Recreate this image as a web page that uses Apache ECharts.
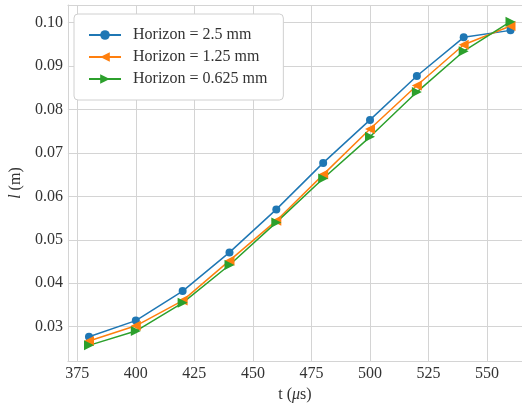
<!DOCTYPE html>
<html>
<head>
<meta charset="utf-8">
<script src="https://cdn.jsdelivr.net/npm/echarts@6/dist/echarts.min.js"></script>
<style>html,body{margin:0;padding:0;background:#fff}#c{width:522px;height:408px}</style>
</head>
<body>
<div id="c"></div>
<script>
const t = [380, 400, 420, 440, 460, 480, 500, 520, 540, 560];
const h25 = [0.0277, 0.0314, 0.0382, 0.0471, 0.0570, 0.0677, 0.0776, 0.0877, 0.0966, 0.0982];
const h125 = [0.0267, 0.0302, 0.0360, 0.0452, 0.0544, 0.0650, 0.0755, 0.0855, 0.0949, 0.0992];
const h0625 = [0.0257, 0.0290, 0.0355, 0.0442, 0.0540, 0.0641, 0.0737, 0.0840, 0.0934, 0.1002];
const seriesNames = ['Horizon = 2.5 mm', 'Horizon = 1.25 mm', 'Horizon = 0.625 mm'];
const xTicks = [375, 400, 425, 450, 475, 500, 525, 550];
const yTicks = [0.03, 0.04, 0.05, 0.06, 0.07, 0.08, 0.09, 0.10];

const FONT = 'Liberation Serif';
const TXT = '#333333';
const GRIDC = '#d4d4d4';
const pairs = arr => t.map((x, i) => [x, arr[i]]);

const chart = echarts.init(document.getElementById('c'), null, {renderer: 'canvas'});
chart.setOption({
  animation: false,
  backgroundColor: '#ffffff',
  textStyle: {fontFamily: FONT},
  grid: {left: 66, top: 5, right: 0, bottom: 44, containLabel: false},
  legend: {
    orient: 'vertical', left: 74, top: 14,
    backgroundColor: '#ffffff', borderColor: '#d0d0d0', borderWidth: 1, borderRadius: 4,
    padding: [13, 16, 13, 14],
    itemWidth: 32, itemHeight: 12, itemGap: 6,
    textStyle: {fontFamily: FONT, fontSize: 16, lineHeight: 16, color: TXT, padding: [0, 0, 0, 7]},
    data: seriesNames
  },
  xAxis: [{
    type: 'value', min: 371, max: 564.9,
    name: 't ({i|μ}s)', nameLocation: 'middle', nameGap: 23,
    nameTextStyle: {fontFamily: FONT, fontSize: 16, color: TXT,
      rich: {i: {fontFamily: FONT, fontSize: 16, fontStyle: 'italic', color: TXT}}},
    axisLine: {show: true, lineStyle: {color: GRIDC, width: 1}},
    axisTick: {show: false, customValues: xTicks},
    axisLabel: {customValues: xTicks, fontFamily: FONT, fontSize: 16, color: TXT, margin: 5},
    splitLine: {show: true, lineStyle: {color: GRIDC, width: 1}}
  }, {
    type: 'value', min: 371, max: 564.9, position: 'top',
    axisLine: {show: true, lineStyle: {color: GRIDC, width: 1}},
    axisTick: {show: false}, axisLabel: {show: false}, splitLine: {show: false}
  }],
  yAxis: {
    type: 'value', min: 0.02208, max: 0.10404,
    name: '{i|l} (m)', nameLocation: 'middle', nameGap: 42, nameRotate: 90,
    nameTextStyle: {fontFamily: FONT, fontSize: 16, color: TXT,
      rich: {i: {fontFamily: FONT, fontSize: 16, fontStyle: 'italic', color: TXT}}},
    axisLine: {show: true, lineStyle: {color: GRIDC, width: 1}},
    axisTick: {show: false, customValues: yTicks},
    axisLabel: {customValues: yTicks, fontFamily: FONT, fontSize: 16, color: TXT, margin: 5,
      formatter: v => v.toFixed(2)},
    splitLine: {show: true, lineStyle: {color: GRIDC, width: 1}}
  },
  series: [
    {name: seriesNames[0], type: 'line', data: pairs(h25), symbol: 'circle', symbolSize: 8,
      itemStyle: {color: '#1f77b4'}, lineStyle: {color: '#1f77b4', width: 1.5}},
    {name: seriesNames[1], type: 'line', data: pairs(h125), symbol: 'triangle', symbolSize: 10, symbolRotate: 90,
      itemStyle: {color: '#ff7f0e'}, lineStyle: {color: '#ff7f0e', width: 1.5}},
    {name: seriesNames[2], type: 'line', data: pairs(h0625), symbol: 'triangle', symbolSize: 10, symbolRotate: -90,
      itemStyle: {color: '#2ca02c'}, lineStyle: {color: '#2ca02c', width: 1.5}}
  ]
});
</script>
</body>
</html>
